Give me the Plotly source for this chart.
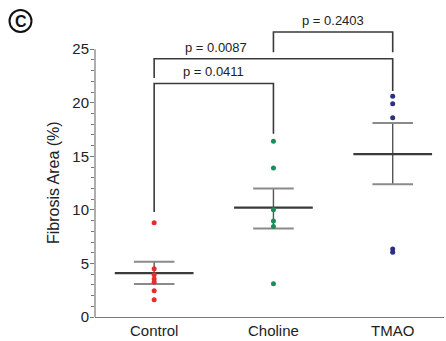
import plotly.graph_objects as go

# ---- data ----
categories = ["Control", "Choline", "TMAO"]
control_vals = [8.8, 4.5, 3.95, 3.55, 3.25, 2.45, 1.6]
choline_vals = [16.4, 13.9, 10.0, 8.95, 8.45, 3.1]
tmao_vals = [20.6, 19.9, 18.6, 6.35, 6.05]
means = [4.09, 10.2, 15.2]
sem_upper = [5.15, 12.0, 18.1]
sem_lower = [3.08, 8.26, 12.4]
colors = ["#e0302c", "#1d8c5c", "#28307f"]

# significance brackets: (left group, right group, bar height, left leg end, right leg end)
br_left = [0, 0, 1]
br_right = [1, 2, 2]
br_height = [21.8, 24.1, 26.6]
br_leg_left = [9.8, 22.3, 24.7]
br_leg_right = [17.1, 21.1, 24.7]
p_labels = ["p = 0.0411", "p = 0.0087", "p = 0.2403"]
p_label_x = [0.5, 0.52, 1.5]

yticks = [0, 5, 10, 15, 20, 25]
y_max_axis = 25
y_range_top = 28

groups = [control_vals, choline_vals, tmao_vals]

fig = go.Figure()

# brackets
for l, r, h, ll, rl in zip(br_left, br_right, br_height, br_leg_left, br_leg_right):
    fig.add_trace(go.Scatter(x=[l, l, r, r], y=[ll, h, h, rl], mode="lines",
                             line=dict(color="#3a3a3a", width=1.6),
                             hoverinfo="skip", showlegend=False))

MW = 0.33   # mean line half-width
CW = 0.17   # sem cap half-width
for i in range(3):
    # sem vertical
    fig.add_trace(go.Scatter(x=[i, i], y=[sem_lower[i], sem_upper[i]], mode="lines",
                             line=dict(color="#555555", width=1.4),
                             hoverinfo="skip", showlegend=False))
    # caps
    fig.add_trace(go.Scatter(x=[i - CW, i + CW, None, i - CW, i + CW],
                             y=[sem_upper[i], sem_upper[i], None, sem_lower[i], sem_lower[i]],
                             mode="lines", line=dict(color="#8a8a8a", width=2),
                             hoverinfo="skip", showlegend=False))
    # mean
    fig.add_trace(go.Scatter(x=[i - MW, i + MW], y=[means[i], means[i]], mode="lines",
                             line=dict(color="#3a3a3a", width=2.2),
                             hoverinfo="skip", showlegend=False))
    # points
    fig.add_trace(go.Scatter(x=[i] * len(groups[i]), y=groups[i], mode="markers",
                             marker=dict(color=colors[i], size=5),
                             showlegend=False))

# y axis line only up to 25 (paper coords derived from axis range)
fig.add_shape(type="line", xref="paper", yref="paper", x0=0, x1=0,
              y0=0, y1=y_max_axis / y_range_top, line=dict(color="#777777", width=1.2))

for lx, h, txt in zip(p_label_x, br_height, p_labels):
    fig.add_annotation(x=lx, y=h + 1.1, text=txt, showarrow=False,
                       font=dict(size=13, color="#222222"), xanchor="center", yanchor="middle")

fig.add_annotation(x=0, xref="paper", xshift=-42, y=y_max_axis / 2, yref="y",
                   text="Fibrosis Area (%)", textangle=-90, showarrow=False,
                   xanchor="center", yanchor="middle",
                   font=dict(size=16, color="#222222"))

# circled C panel label
fig.add_shape(type="circle", xref="paper", yref="paper", xsizemode="pixel", ysizemode="pixel",
              xanchor=0, yanchor=1, x0=-74.5 - 11, x1=-74.5 + 11, y0=-4 - 11, y1=-4 + 11,
              line=dict(color="#111111", width=2))
fig.add_annotation(x=0, xref="paper", xshift=-74.5, y=1, yref="paper", yshift=-4,
                   xanchor="center", yanchor="middle",
                   text="<b>C</b>", showarrow=False, font=dict(size=16, color="#111111"))

fig.update_layout(
    width=446, height=341,
    margin=dict(l=95, r=2, t=17, b=18),
    paper_bgcolor="white", plot_bgcolor="white",
    font=dict(family="Liberation Sans, Arial, sans-serif", color="#222222"),
    xaxis=dict(range=[-0.496, 2.43], tickvals=[0, 1, 2], ticktext=categories,
               showgrid=False, zeroline=False, showline=True, linecolor="#777777",
               linewidth=1.2, ticks="", tickfont=dict(size=15), fixedrange=True),
    yaxis=dict(range=[0, y_range_top], tickvals=yticks, showgrid=False, zeroline=False,
               showline=False, ticks="outside", ticklen=4, tickwidth=1.2, tickcolor="#777777",
               tickfont=dict(size=15), ticklabelstandoff=-2,
               minor=dict(tickmode="array",
                          tickvals=[v for v in range(0, 26) if v % 5 != 0],
                          ticks="outside", ticklen=3, tickwidth=1, tickcolor="#777777"),
               fixedrange=True),
)

fig.write_html("out.html", config={"displayModeBar": False},
               post_script="document.body.style.margin='0';")
